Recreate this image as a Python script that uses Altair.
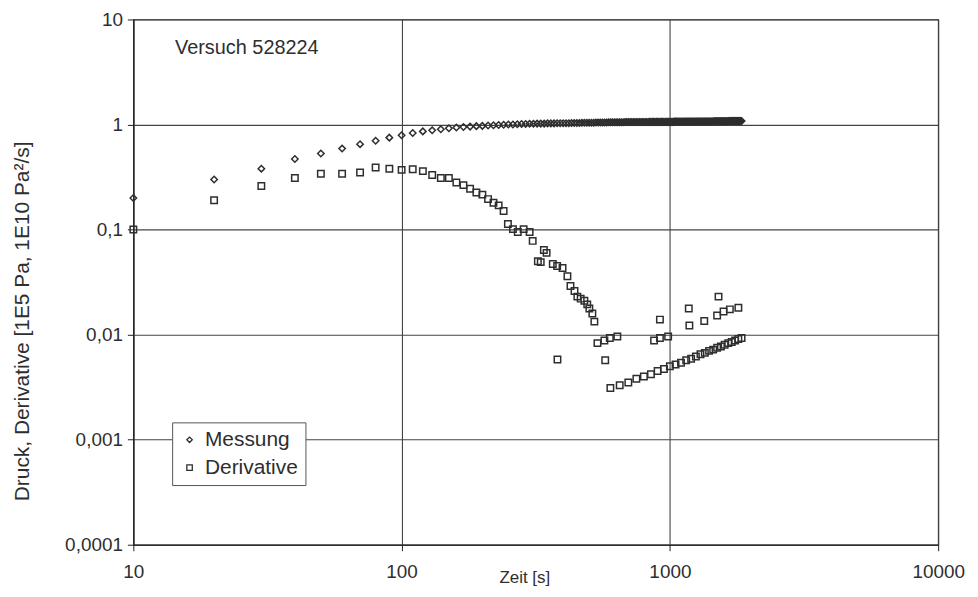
import altair as alt
import pandas as pd

# ---------------- data ----------------
# Messung (pressure), sampled every 10 s from 10 s to 1850 s
messung_t = list(range(10, 1860, 10))
messung_v = [
    0.20, 0.30, 0.38, 0.47, 0.53, 0.59, 0.65, 0.70, 0.75, 0.79,
    0.83, 0.86, 0.88, 0.90, 0.92, 0.935, 0.945, 0.955, 0.965, 0.97,
    0.98, 0.985, 0.99, 0.995, 1.00, 1.00, 1.005, 1.01, 1.01, 1.015,
    1.015, 1.02, 1.02, 1.02, 1.025, 1.025, 1.025, 1.03, 1.03, 1.03,
    1.03, 1.03, 1.035, 1.035, 1.035, 1.035, 1.04, 1.04, 1.04, 1.04,
    1.04, 1.04, 1.045, 1.045, 1.045, 1.045, 1.045, 1.045, 1.05, 1.05,
    1.05, 1.05, 1.05, 1.05, 1.05, 1.05, 1.05, 1.055, 1.055, 1.055,
    1.055, 1.055, 1.055, 1.055, 1.055, 1.055, 1.055, 1.055, 1.055, 1.055,
    1.055, 1.055, 1.055, 1.06, 1.06, 1.06, 1.06, 1.06, 1.06, 1.06,
    1.06, 1.06, 1.06, 1.06, 1.06, 1.06, 1.06, 1.06, 1.06, 1.06,
    1.06, 1.06, 1.06, 1.065, 1.065, 1.065, 1.065, 1.065, 1.065, 1.065,
    1.065, 1.065, 1.065, 1.065, 1.065, 1.065, 1.065, 1.065, 1.065, 1.065,
    1.065, 1.065, 1.065, 1.07, 1.07, 1.07, 1.07, 1.07, 1.07, 1.07,
    1.07, 1.07, 1.07, 1.07, 1.07, 1.07, 1.07, 1.07, 1.07, 1.07,
    1.07, 1.07, 1.07, 1.07, 1.07, 1.075, 1.075, 1.075, 1.075, 1.075,
    1.075, 1.075, 1.075, 1.075, 1.075, 1.075, 1.075, 1.075, 1.075, 1.075,
    1.075, 1.075, 1.075, 1.075, 1.075, 1.08, 1.08, 1.08, 1.08, 1.08,
    1.08, 1.08, 1.08, 1.08, 1.08, 1.08, 1.08, 1.08, 1.08, 1.08,
    1.08, 1.08, 1.08, 1.08, 1.08,
]

# Derivative (main branch, scattered points, lower branch)
deriv_t = [
    10, 20, 30, 40, 50, 60, 70, 80, 90, 100,
    110, 120, 130, 140, 150, 160, 170, 180, 190, 200,
    210, 220, 230, 240,
    249, 260, 271, 285, 300, 308, 322, 330, 339, 347,
    366, 380, 398, 415, 426, 441, 452, 465, 480, 492,
    501, 514, 523,
    381, 574,
    537, 570, 597, 637,
    873, 918, 985,
    918, 1176, 1518,
    1182, 1343, 1500, 1585, 1673, 1800,
    600, 650, 700, 750, 800, 850, 900, 950, 1000, 1050,
    1100, 1150, 1200, 1250, 1300, 1350, 1400, 1450, 1500, 1550,
    1600, 1650, 1700, 1750, 1800, 1850,
]
deriv_v = [
    0.10, 0.19, 0.26, 0.31, 0.34, 0.34, 0.35, 0.39, 0.38, 0.37,
    0.375, 0.36, 0.33, 0.31, 0.31, 0.28, 0.265, 0.245, 0.225, 0.215,
    0.195, 0.18, 0.17, 0.15,
    0.113, 0.101, 0.095, 0.101, 0.095, 0.078, 0.050, 0.049, 0.064, 0.060,
    0.047, 0.045, 0.043, 0.036, 0.029, 0.026, 0.023, 0.022, 0.021, 0.0194,
    0.0177, 0.0159, 0.0133,
    0.0058, 0.0057,
    0.0083, 0.0088, 0.0093, 0.0096,
    0.0088, 0.0093, 0.0096,
    0.0139, 0.0177, 0.023,
    0.0122, 0.0135, 0.0152, 0.0166, 0.0174, 0.018,
    0.0031, 0.0033, 0.0035, 0.0038, 0.0040, 0.0042, 0.0045, 0.0047, 0.0050, 0.0052,
    0.0054, 0.0057, 0.0059, 0.0062, 0.0065, 0.0067, 0.0070, 0.0072, 0.0075, 0.0077,
    0.0080, 0.0083, 0.0085, 0.0088, 0.0091, 0.0093,
]

series_names = ["Messung", "Derivative"]
x_ticks = [10, 100, 1000, 10000]
y_ticks = [0.0001, 0.001, 0.01, 0.1, 1, 10]

annotation_text = ["Versuch 528224"]
annotation_t = [14.3]
annotation_v = [5.35]

x_title = "Zeit [s]"
y_title = "Druck, Derivative [1E5 Pa, 1E10 Pa²/s]"

# ---------------- build table ----------------
df = pd.concat([
    pd.DataFrame({"t": messung_t, "v": messung_v, "series": series_names[0]}),
    pd.DataFrame({"t": deriv_t, "v": deriv_v, "series": series_names[1]}),
], ignore_index=True)

ann = pd.DataFrame({"t": annotation_t, "v": annotation_v, "text": annotation_text})

FONT = "Liberation Sans"
INK = "#2e2e2e"

xscale = alt.Scale(type="log", domain=[10, 10000], nice=False)
yscale = alt.Scale(type="log", domain=[0.0001, 10], nice=False)

points = alt.Chart(df).mark_point(filled=False, strokeWidth=1.5, opacity=1, size=42).encode(
    x=alt.X("t:Q", scale=xscale, axis=alt.Axis(
        values=x_ticks, format="d", title=x_title, labelFlush=False,
        titleX=393, titleY=33, titleBaseline="middle", titleAlign="center",
        titleFontSize=17,
    )),
    y=alt.Y("v:Q", scale=yscale, axis=alt.Axis(
        values=y_ticks, format="~g", labelFlush=False,
        labelExpr="replace(datum.label, '.', ',')",
        title=y_title, titleX=-111, titleY=303, titleAngle=270,
        titleAlign="center", titleBaseline="middle", titleFontSize=21,
    )),
    shape=alt.Shape("series:N", scale=alt.Scale(domain=series_names, range=["diamond", "square"]),
                    legend=alt.Legend(title=None, orient="none", legendX=39, legendY=405)),
    color=alt.value(INK),
)

text = alt.Chart(ann).mark_text(align="left", baseline="middle", font=FONT, fontSize=20, color=INK).encode(
    x=alt.X("t:Q", scale=xscale),
    y=alt.Y("v:Q", scale=yscale),
    text="text:N",
)

chart = alt.layer(points, text).properties(
    width=809, height=528, background="white",
    padding={"left": 4, "top": 1, "right": 5, "bottom": 5},
).configure_view(
    stroke="#222222", strokeWidth=1.2,
).configure_axis(
    grid=True, gridColor="#444444", gridWidth=1.1, gridOpacity=1,
    domainColor="#222222", domainWidth=1.2,
    tickColor="#222222", tickSize=6,
    labelFont=FONT, labelFontSize=19, labelColor=INK,
    titleFont=FONT, titleFontSize=18, titleColor=INK, titleFontWeight="normal",
).configure_axisX(
    labelPadding=12,
).configure_axisY(
    labelPadding=5,
).configure_legend(
    strokeColor="#555555", fillColor="white", padding=7,
    labelFont=FONT, labelFontSize=21, labelColor=INK,
    symbolStrokeColor=INK, symbolStrokeWidth=1.3, symbolSize=30,
    symbolFillColor="transparent", labelOffset=5, rowPadding=6,
)

chart.save("out.html", embed_options={"renderer": "svg", "actions": False})
